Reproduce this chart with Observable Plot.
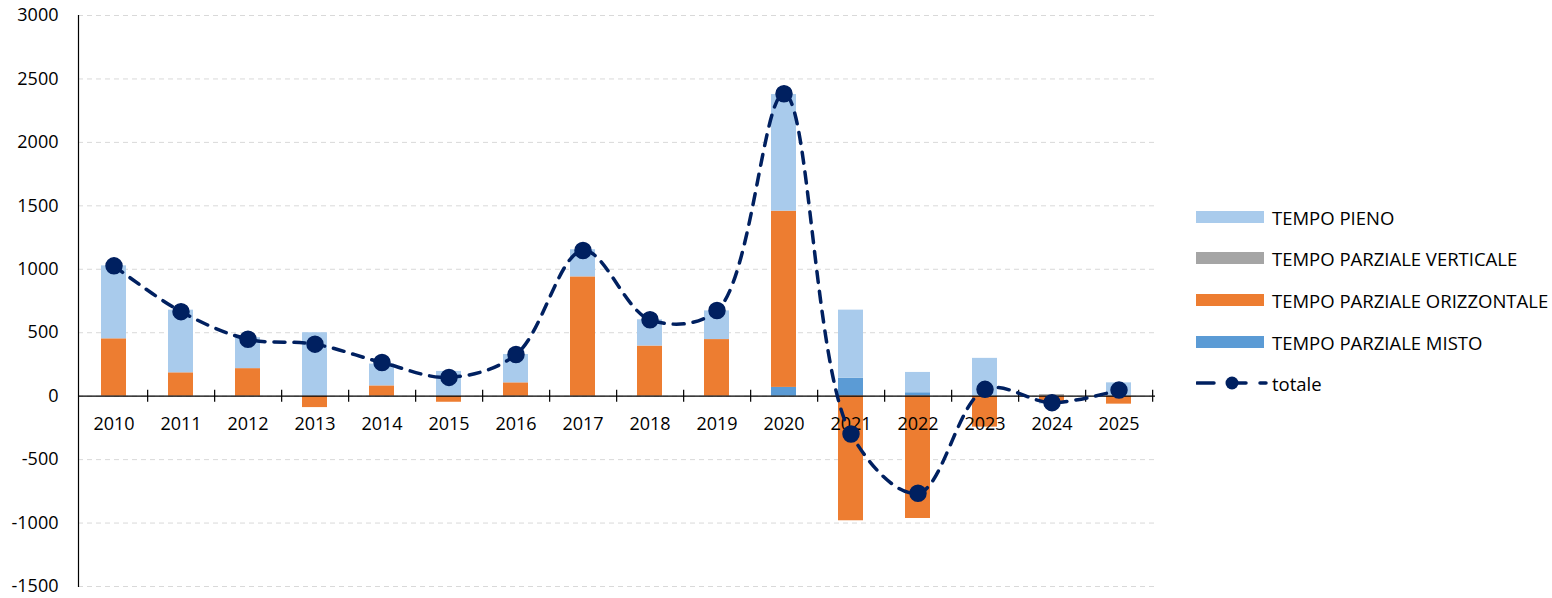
<!DOCTYPE html>
<html>
<head>
<meta charset="utf-8">
<script src="https://cdn.jsdelivr.net/npm/d3@7"></script>
<script src="https://cdn.jsdelivr.net/npm/@observablehq/plot@0.6"></script>
<style>
  body { margin: 0; background: #fff; font-family: "Open Sans", sans-serif; }
  #wrap { position: relative; width: 1552px; height: 598px; }
  #legend { position: absolute; left: 1196px; top: 0; font-size: 18.5px; color: #000; }
  .row { position: absolute; left: 0; height: 20px; display: flex; align-items: center; white-space: nowrap; }
  .sw { width: 68px; height: 12px; margin-right: 8px; flex: none; }
</style>
</head>
<body>
<div id="wrap"></div>
<script>
const years = ["2010","2011","2012","2013","2014","2015","2016","2017","2018","2019","2020","2021","2022","2023","2024","2025"];
const seriesNames = ["TEMPO PARZIALE MISTO","TEMPO PARZIALE ORIZZONTALE","TEMPO PARZIALE VERTICALE","TEMPO PIENO"];
const seriesColors = ["#5B9BD5","#ED7D31","#A5A5A5","#A9CBEC"];
const misto       = [0, 0, 0, 0, 0, 0, 0, 0, 0, 0, 69, 142, 27, 0, 0, 0];
const orizzontale = [452, 184, 217, -90, 81, -48, 105, 940, 395, 446, 1389, -982, -964, -244, -42, -63];
const verticale   = [0, 0, 0, 0, 0, 0, 0, 0, 0, 0, 0, 0, 0, 0, 12, 0];
const pieno       = [575, 494, 244, 500, 172, 195, 223, 214, 207, 226, 919, 536, 160, 298, -20, 105];
const totale      = [1027, 666, 449, 410, 265, 148, 328, 1148, 602, 675, 2383, -298, -765, 54, -51, 48];
const yTicks = [-1500, -1000, -500, 0, 500, 1000, 1500, 2000, 2500, 3000];
const legendLabels = ["TEMPO PIENO","TEMPO PARZIALE VERTICALE","TEMPO PARZIALE ORIZZONTALE","TEMPO PARZIALE MISTO"];

const seriesValues = [misto, orizzontale, verticale, pieno];
const table = [];
years.forEach((yr, i) => {
  seriesNames.forEach((s, k) => table.push({year: yr, series: s, value: seriesValues[k][i]}));
});
const lineData = years.map((yr, i) => ({year: yr, value: totale[i]}));

const W = 1552, H = 598, ML = 78, MR = 397, MT = 15, MB = 12;
const step = (W - ML - MR) / years.length;
const navy = "#002060";

const chart = Plot.plot({
  width: W, height: H,
  marginLeft: ML, marginRight: MR, marginTop: MT, marginBottom: MB,
  style: {fontFamily: "'Open Sans', sans-serif", fontSize: "18px", color: "#000", background: "#fff"},
  x: {domain: years, paddingInner: 0.62, paddingOuter: 0.31, axis: null},
  y: {domain: [-1500, 3000], axis: null, label: null},
  color: {domain: seriesNames, range: seriesColors},
  marks: [
    Plot.gridY(yTicks, {stroke: "#d9d9d9", strokeOpacity: 1, strokeDasharray: "5,4", strokeWidth: 1}),
    Plot.barY(table, {x: "year", y: "value", fill: "series"}),
    Plot.ruleY([0], {stroke: "#000", strokeWidth: 1.2}),
    Plot.ruleX(years, {x: d => d, y1: 0, y2: 0, dx: step / 2, insetTop: -6, insetBottom: -6, stroke: "#000", strokeWidth: 1.2}),
    Plot.text(years, {x: d => d, y: 0, text: d => d, dy: 28, fontSize: 18, fill: "#000"}),
    Plot.frame({anchor: "left", stroke: "#000", strokeWidth: 1.2}),
    Plot.axisY(yTicks, {tickSize: 0, tickPadding: 20, label: null, tickFormat: d => String(d), fontSize: 18, fill: "#000"}),
    Plot.line(lineData, {x: "year", y: "value", curve: "catmull-rom", stroke: navy, strokeWidth: 3.5, strokeDasharray: "11,9"}),
    Plot.dot(lineData, {x: "year", y: "value", r: 8, fill: navy, stroke: navy})
  ]
});

const wrap = document.getElementById("wrap");
wrap.appendChild(chart);

const legend = document.createElement("div");
legend.id = "legend";
const rowTops = [207, 248, 290, 332];
legendLabels.forEach((lab, i) => {
  const row = document.createElement("div");
  row.className = "row";
  row.style.top = rowTops[i] + "px";
  const sw = document.createElement("div");
  sw.className = "sw";
  sw.style.background = seriesColors[seriesNames.indexOf(lab)];
  const t = document.createElement("span");
  t.textContent = lab;
  row.appendChild(sw); row.appendChild(t);
  legend.appendChild(row);
});
const lrow = document.createElement("div");
lrow.className = "row";
lrow.style.top = "373px";
lrow.innerHTML = `<svg width="72" height="20" style="margin-right:4px;flex:none">
  <line x1="1" y1="10" x2="18" y2="10" stroke="${navy}" stroke-width="3.5" stroke-linecap="round"/>
  <line x1="33" y1="10" x2="50" y2="10" stroke="${navy}" stroke-width="3.5" stroke-linecap="round"/>
  <circle cx="36" cy="10" r="6.5" fill="${navy}"/>
  <line x1="64" y1="10" x2="70" y2="10" stroke="${navy}" stroke-width="3.5" stroke-linecap="round"/>
</svg><span>totale</span>`;
legend.appendChild(lrow);
wrap.appendChild(legend);
</script>
</body>
</html>
